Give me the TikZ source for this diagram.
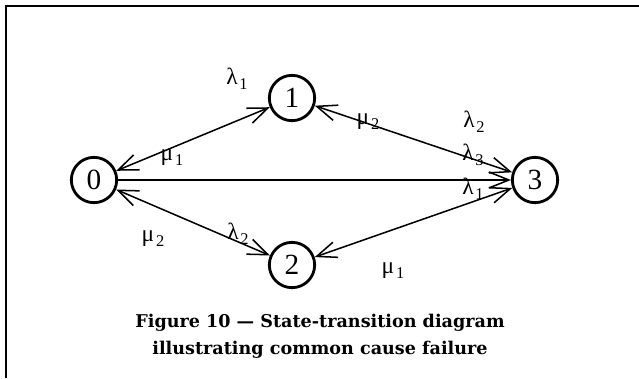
\documentclass[tikz,border=0pt]{standalone}
\usepackage{fontspec}
\setmainfont{Liberation Serif}
\newfontfamily\capfont{DejaVu Serif}
\usetikzlibrary{arrows.meta,positioning}
\tikzset{
  state/.style={circle,draw,line width=2.4pt,minimum size=1.36cm,
                inner sep=0pt,font=\fontsize{25}{25}\selectfont},
  barb/.tip={Straight Barb[length=6mm,width=4.8mm]},
  trans/.style={line width=1.3pt,-barb},
  twoway/.style={line width=1.3pt,barb-barb},
  rate/.style={inner sep=0pt,font=\fontsize{20}{20}\selectfont},
  caption/.style={align=center,font=\capfont\bfseries\fontsize{15}{23}\selectfont}
}
\newcommand{\rt}[2]{#1\kern1.5pt\raisebox{-0.45ex}{\fontsize{14}{14}\selectfont #2}}
\begin{document}
\begin{tikzpicture}[x=0.03cm,y=-0.03cm]
  \useasboundingbox (0,0) rectangle (639,378);
  % frame (left and top only)
  \draw[line width=1.7pt] (6,378) -- (6,6) -- (639,6);
  % states
  \node[state] (s0) at (94,180) {0};
  \node[state] (s1) at (292,98) {1};
  \node[state] (s2) at (292,265) {2};
  \node[state] (s3) at (535,180) {3};
  % transitions
  \draw[twoway] (s0) -- (s1);
  \draw[twoway] (s1) -- (s3);
  \draw[trans] (s0) -- (s3);
  \draw[twoway] (s2) -- (s0);
  \draw[twoway] (s2) -- (s3);
  % rates
  \node[rate] (la1) at (237,79) {\rt{λ}{1}};
  \node[rate] (mu1) at (172,158) {\rt{μ}{1}};
  \node[rate] (mu2) at (368,122) {\rt{μ}{2}};
  \node[rate] (la2) at (474,122) {\rt{λ}{2}};
  \node[rate] (la3) at (473,155) {\rt{λ}{3}};
  \node[rate] (lb1) at (473,189) {\rt{λ}{1}};
  \node[rate] (mb2) at (153,239) {\rt{μ}{2}};
  \node[rate] (lb2) at (238,234) {\rt{λ}{2}};
  \node[rate] (mb1) at (393,271) {\rt{μ}{1}};
  % caption
  \node[caption] (cap) at (320,336)
    {Figure 10 — State-transition diagram\\illustrating common cause failure};
\end{tikzpicture}
\end{document}
